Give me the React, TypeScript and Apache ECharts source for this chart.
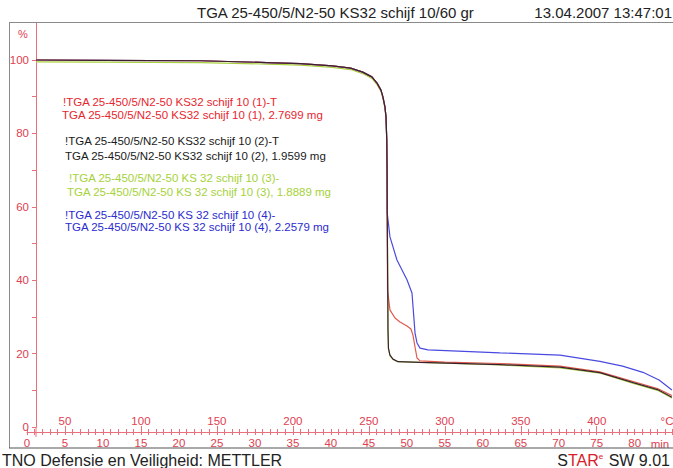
import React, { useEffect, useRef } from "react";
import * as echarts from "echarts";

// ---- data (temperature °C, mass %) ----
const redT = [30.9, 73, 139, 183, 205, 226, 238, 246, 252, 255.4, 258, 259.3, 260.6, 261.3, 261.8, 262.0, 262.1, 262.2, 262.3, 263.9, 267.2, 270.5, 275.1, 277.7, 279.0, 280.4, 281.7, 283.7, 300, 336.3, 375.8, 402, 424, 440, 449.5];
const redP = [100.0, 99.9, 99.8, 99.3, 99.0, 98.4, 97.8, 96.7, 95.4, 93.7, 91.8, 89.9, 87.2, 84.5, 78.2, 70.0, 58.3, 45.5, 37.3, 31.9, 29.7, 28.6, 27.5, 26.7, 25.1, 21.8, 18.8, 18.0, 17.7, 17.3, 16.6, 15.0, 12.4, 10.5, 8.6];

const blackT = [30.9, 73, 139, 183, 205, 226, 238, 246, 252, 255.4, 258, 259.3, 260.6, 261.3, 261.8, 262.0, 262.1, 262.3, 262.5, 262.6, 262.9, 263.9, 265.9, 269.2, 283.7, 336.3, 375.8, 402, 424, 440, 449.5];
const blackP = [100.0, 99.9, 99.8, 99.3, 99.0, 98.4, 97.8, 96.7, 95.4, 93.7, 91.8, 89.9, 87.2, 84.5, 78.2, 70.0, 58.3, 45.5, 34.6, 26.4, 21.5, 19.6, 18.5, 17.8, 17.6, 17.0, 16.3, 14.8, 12.1, 10.2, 8.1];

const greenT = [30.9, 73, 139, 183, 205, 226, 238, 246, 252, 255.4, 258, 259.3, 260.6, 261.3, 261.8, 262.0, 262.2, 262.4, 262.5, 262.6, 262.9, 263.9, 265.9, 269.2, 283.7, 336.3, 375.8, 402, 424, 440, 449.5];
const greenP = [99.5, 99.4, 99.3, 98.9, 98.6, 98.0, 97.4, 96.3, 95.0, 93.3, 91.4, 89.5, 86.8, 84.0, 78.0, 70.0, 58.0, 45.0, 34.5, 26.4, 21.3, 19.4, 18.4, 17.8, 17.6, 16.9, 16.1, 14.7, 11.9, 10.0, 7.9];

const blueT = [30.9, 73, 139, 183, 205, 226, 238, 246, 252, 255.4, 258, 259.3, 260.6, 261.3, 261.8, 262.0, 262.1, 263.9, 268.5, 275.1, 278.4, 279.4, 280.4, 281.7, 283.7, 288.9, 336.3, 375.8, 402.1, 417, 430.4, 441, 449.5];
const blueP = [100.0, 99.9, 99.8, 99.3, 99.0, 98.4, 97.8, 96.7, 95.4, 93.7, 91.8, 89.9, 87.2, 84.5, 78.2, 70.0, 58.3, 51.8, 45.5, 40.1, 36.5, 31.1, 25.6, 22.9, 21.5, 21.0, 20.2, 19.6, 17.9, 16.6, 14.9, 12.8, 10.1];

// ---- axis ticks / labels ----
const yTicks = [0, 10, 20, 30, 40, 50, 60, 70, 80, 90, 100];
const yLabels = [0, 20, 40, 60, 80, 100];
const tempLabels = [50, 100, 150, 200, 250, 300, 350, 400];
const tempMinorTicks = Array.from({ length: 86 }, (_, i) => 25 + i * 5);
const timeLabels = [0, 5, 10, 15, 20, 25, 30, 35, 40, 45, 50, 55, 60, 65, 70, 75, 80];
const timeTicks = Array.from({ length: 86 }, (_, i) => i);

const legendLines = [
  { text: "!TGA 25-450/5/N2-50 KS32 schijf 10 (1)-T", color: "#e8262e", x: 63, y: 102 },
  { text: "TGA 25-450/5/N2-50 KS32 schijf 10 (1), 2.7699 mg", color: "#e8262e", x: 62, y: 115 },
  { text: "!TGA 25-450/5/N2-50 KS32 schijf 10 (2)-T", color: "#1a1a1a", x: 65, y: 141 },
  { text: "TGA 25-450/5/N2-50 KS32 schijf 10 (2), 1.9599 mg", color: "#1a1a1a", x: 65, y: 156 },
  { text: "!TGA 25-450/5/N2-50 KS 32 schijf 10 (3)-", color: "#a6d23a", x: 69, y: 178 },
  { text: "TGA 25-450/5/N2-50 KS 32 schijf 10 (3), 1.8889 mg", color: "#a6d23a", x: 67, y: 192 },
  { text: "!TGA 25-450/5/N2-50 KS 32 schijf 10 (4)-", color: "#2b2bd0", x: 65, y: 215 },
  { text: "TGA 25-450/5/N2-50 KS 32 schijf 10 (4), 2.2579 mg", color: "#2b2bd0", x: 65, y: 227 },
];

const FONT = "'Liberation Sans', Arial, sans-serif";
const AXIS_RED = "#e8707c";
const LABEL_RED = "#e0404f";

const zip = (t: number[], p: number[]) => t.map((v, i) => [v, p[i]]);

export default function App() {
  const ref = useRef<HTMLDivElement>(null);
  useEffect(() => {
    if (!ref.current) return;
    const chart = echarts.init(ref.current, null, { renderer: "svg" });
    const lineSeries = (name: string, data: number[][], color: string, width = 1.2) => ({
      name,
      type: "line",
      data,
      showSymbol: false,
      symbol: "none",
      xAxisIndex: 0,
      yAxisIndex: 0,
      lineStyle: { color, width },
      z: 3,
    });
    const option: any = {
      animation: false,
      backgroundColor: "#ffffff",
      grid: { left: 27, right: 0.3, top: 23.3, bottom: 41, containLabel: false },
      xAxis: [
        {
          type: "value",
          min: 25,
          max: 450,
          position: "bottom",
          offset: 5,
          axisLine: { show: true, onZero: false, lineStyle: { color: AXIS_RED, width: 1 } },
          axisTick: { show: true, inside: true, length: 3, customValues: tempMinorTicks, lineStyle: { color: AXIS_RED } },
          axisLabel: { show: true, inside: true, margin: 5, customValues: tempLabels, color: LABEL_RED, fontSize: 11.5, fontFamily: FONT },
          splitLine: { show: false },
        },
        {
          type: "value",
          min: 25,
          max: 450,
          position: "bottom",
          offset: 5,
          axisLine: { show: false, onZero: false },
          axisTick: { show: true, inside: true, length: 6, customValues: tempLabels, lineStyle: { color: AXIS_RED } },
          axisLabel: { show: false },
          splitLine: { show: false },
        },
        {
          type: "value",
          min: 0,
          max: 85,
          position: "bottom",
          offset: 5,
          axisLine: { show: false, onZero: false },
          axisTick: { show: true, inside: false, length: 3, customValues: timeTicks, lineStyle: { color: AXIS_RED } },
          axisLabel: { show: true, margin: 5, customValues: timeLabels, color: LABEL_RED, fontSize: 11.5, fontFamily: FONT },
          splitLine: { show: false },
        },
      ],
      yAxis: [
        {
          type: "value",
          min: 0,
          max: 110,
          offset: -9,
          axisLine: { show: true, onZero: false, lineStyle: { color: AXIS_RED, width: 1 } },
          axisTick: { show: true, length: 4, customValues: yTicks, lineStyle: { color: AXIS_RED } },
          axisLabel: { show: true, margin: 7, customValues: yLabels, color: LABEL_RED, fontSize: 11.5, fontFamily: FONT },
          splitLine: { show: false },
        },
      ],
      series: [
        lineSeries("(3)", zip(greenT, greenP), "#a8d040"),
        lineSeries("(4)", zip(blueT, blueP), "#4a4ae0"),
        lineSeries("(1)", zip(redT, redP), "#e05a4c"),
        lineSeries("(2)", zip(blackT, blackP), "#3a2030"),
      ],
      graphic: [
        // frame
        { type: "line", z: 100, shape: { x1: 9, y1: 22.5, x2: 673, y2: 22.5 }, style: { stroke: "#8a8a8a", lineWidth: 1 } },
        { type: "line", z: 100, shape: { x1: 9.5, y1: 22.5, x2: 9.5, y2: 448 }, style: { stroke: "#8a8a8a", lineWidth: 1 } },
        { type: "rect", z: 99, shape: { x: 0, y: 448, width: 673, height: 5 }, style: { fill: "#ffffff" } },
        { type: "line", z: 100, shape: { x1: 9, y1: 448, x2: 673, y2: 448 }, style: { stroke: "#555555", lineWidth: 1.2 } },
        // y-axis extension below zero
        { type: "line", z: 100, shape: { x1: 36, y1: 427, x2: 36, y2: 437 }, style: { stroke: AXIS_RED, lineWidth: 1 } },
        // axis units
        { type: "text", z: 100, x: 23, y: 34, style: { text: "%", fill: LABEL_RED, fontSize: 11, fontFamily: FONT, align: "center", verticalAlign: "middle" } },
        { type: "text", z: 100, x: 667, y: 421, style: { text: "°C", fill: LABEL_RED, fontSize: 11.5, fontFamily: FONT, align: "center", verticalAlign: "middle" } },
        { type: "text", z: 98, x: 660, y: 443.5, style: { text: "min", fill: LABEL_RED, fontSize: 11.5, fontFamily: FONT, align: "center", verticalAlign: "middle" } },
        // header
        { type: "text", z: 100, x: 197, y: 12, style: { text: "TGA 25-450/5/N2-50 KS32 schijf 10/60 gr", fill: "#222222", fontSize: 15, fontFamily: FONT, align: "left", verticalAlign: "middle" } },
        { type: "text", z: 100, x: 672, y: 12, style: { text: "13.04.2007 13:47:01", fill: "#222222", fontSize: 15, fontFamily: FONT, align: "right", verticalAlign: "middle" } },
        // footer
        { type: "text", z: 100, x: 2, y: 460.5, style: { text: "TNO Defensie en Veiligheid: METTLER", fill: "#222222", fontSize: 16, fontFamily: FONT, align: "left", verticalAlign: "middle" } },
        {
          type: "text", z: 100, x: 670, y: 460.5,
          style: {
            text: "{a|S}{b|TAR}{c|e}{a| SW 9.01}",
            align: "right",
            verticalAlign: "middle",
            fontFamily: FONT,
            rich: {
              a: { fill: "#222222", fontSize: 16, fontFamily: FONT },
              b: { fill: "#d8202a", fontSize: 16, fontFamily: FONT },
              c: { fill: "#d8202a", fontSize: 8, fontFamily: FONT, verticalAlign: "top", padding: [0, 1, 8, 0] },
            },
          },
        },
        // legend texts
        ...legendLines.map((l) => ({
          type: "text",
          z: 100,
          x: l.x,
          y: l.y,
          style: { text: l.text, fill: l.color, fontSize: 11.5, fontFamily: FONT, align: "left", verticalAlign: "middle" },
        })),
      ],
    };
    chart.setOption(option);
    return () => chart.dispose();
  }, []);
  return <div ref={ref} style={{ position: "absolute", left: 0, top: 0, width: 673, height: 468 }} />;
}
